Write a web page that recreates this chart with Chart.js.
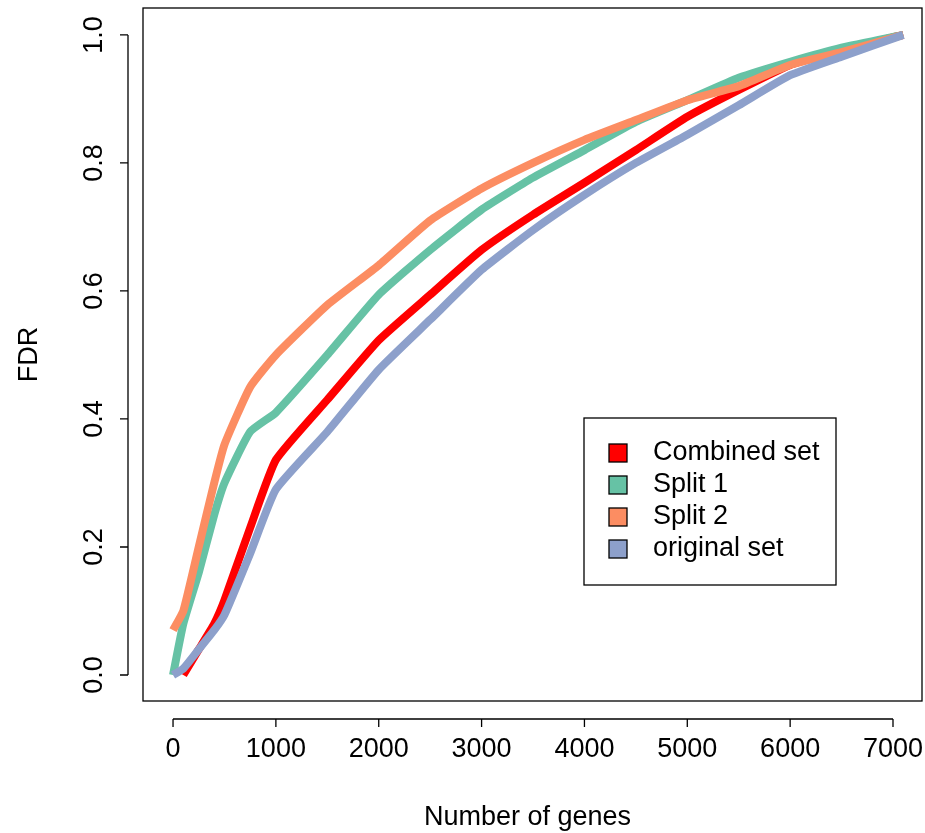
<!DOCTYPE html>
<html>
<head>
<meta charset="utf-8">
<script src="https://cdn.jsdelivr.net/npm/chart.js@4"></script>
<style>
  html, body { margin: 0; padding: 0; background: #fff; }
  #wrap { width: 925px; height: 833px; }
</style>
</head>
<body>
<div id="wrap"><canvas id="fdr"></canvas></div>
<script>
// ---- Data ----
const genes = [0, 100, 250, 400, 500, 750, 1000, 1500, 2000, 2500, 3000, 3500, 4000, 4500, 5000, 5500, 6000, 6500, 7100];
const combinedSet = [null, 0.0, 0.04, 0.08, 0.117, 0.23, 0.336, 0.43, 0.523, 0.594, 0.664, 0.719, 0.769, 0.82, 0.872, 0.914, 0.953, 0.977, 1.0];
const split1 = [0.0, 0.08, 0.16, 0.25, 0.30, 0.38, 0.41, 0.50, 0.594, 0.664, 0.727, 0.777, 0.82, 0.864, 0.898, 0.933, 0.958, 0.98, 1.0];
const split2 = [0.07, 0.10, 0.20, 0.30, 0.36, 0.45, 0.50, 0.578, 0.64, 0.71, 0.76, 0.80, 0.836, 0.867, 0.898, 0.92, 0.953, 0.973, 1.0];
const originalSet = [0.0, 0.01, 0.04, 0.07, 0.094, 0.19, 0.29, 0.38, 0.477, 0.555, 0.633, 0.695, 0.75, 0.80, 0.844, 0.89, 0.937, 0.966, 1.0];

const xTicks = [0, 1000, 2000, 3000, 4000, 5000, 6000, 7000];
const yTicks = [0.0, 0.2, 0.4, 0.6, 0.8, 1.0];

const seriesNames = ["Combined set", "Split 1", "Split 2", "original set"];
const seriesColors = ["#FF0000", "#66C2A5", "#FC8D62", "#8DA0CB"];
const seriesData = [combinedSet, split1, split2, originalSet];

const FONT = "27px 'Liberation Sans', Arial, sans-serif";

function pts(arr) {
  return genes.map((g, i) => ({ x: g, y: arr[i] })).filter((p) => p.y != null);
}

// ---- R-style axes, box and legend ----
const rAxes = {
  id: "rAxes",
  afterDraw(chart) {
    const { ctx, chartArea: a, scales: { x, y } } = chart;
    ctx.save();
    ctx.strokeStyle = "#000";
    ctx.fillStyle = "#000";
    ctx.lineWidth = 1.3;
    ctx.font = FONT;
    ctx.strokeRect(a.left, a.top, a.right - a.left, a.bottom - a.top);

    // x axis
    const xa = a.bottom + 18;
    ctx.beginPath();
    ctx.moveTo(x.getPixelForValue(0), xa);
    ctx.lineTo(x.getPixelForValue(7000), xa);
    xTicks.forEach((t) => {
      const px = x.getPixelForValue(t);
      ctx.moveTo(px, xa);
      ctx.lineTo(px, xa + 8);
    });
    ctx.stroke();
    ctx.textAlign = "center";
    ctx.textBaseline = "middle";
    xTicks.forEach((t) => ctx.fillText(String(t), x.getPixelForValue(t), xa + 31));
    ctx.fillText("Number of genes", (a.left + a.right) / 2 - 5, 818);

    // y axis
    const ya = a.left - 15;
    ctx.beginPath();
    ctx.moveTo(ya, y.getPixelForValue(0));
    ctx.lineTo(ya, y.getPixelForValue(1));
    yTicks.forEach((t) => {
      const py = y.getPixelForValue(t);
      ctx.moveTo(ya, py);
      ctx.lineTo(ya - 8, py);
    });
    ctx.stroke();
    yTicks.forEach((t) => {
      ctx.save();
      ctx.translate(ya - 33, y.getPixelForValue(t));
      ctx.rotate(-Math.PI / 2);
      ctx.fillText(t.toFixed(1), 0, 0);
      ctx.restore();
    });
    ctx.save();
    ctx.translate(30, (a.top + a.bottom) / 2);
    ctx.rotate(-Math.PI / 2);
    ctx.fillText("FDR", 0, 0);
    ctx.restore();

    // legend
    const lx = 584, ly = 418, lw = 252, lh = 167;
    ctx.fillStyle = "#fff";
    ctx.fillRect(lx, ly, lw, lh);
    ctx.strokeRect(lx, ly, lw, lh);
    ctx.textAlign = "left";
    seriesNames.forEach((n, i) => {
      const cy = ly + 35 + i * 32;
      ctx.fillStyle = seriesColors[i];
      ctx.fillRect(lx + 25, cy - 9, 18, 18);
      ctx.strokeRect(lx + 25, cy - 9, 18, 18);
      ctx.fillStyle = "#000";
      ctx.fillText(n, lx + 69, cy);
    });
    ctx.restore();
  },
};

// draw order: red, green, orange, blue on top
const datasets = seriesData.map((d, i) => ({
  label: seriesNames[i],
  data: pts(d),
  borderColor: seriesColors[i],
  borderWidth: 8,
  pointRadius: 0,
  showLine: true,
  tension: 0.15,
  order: 3 - i,
}));

new Chart(document.getElementById("fdr"), {
  type: "scatter",
  data: { datasets },
  options: {
    responsive: true,
    maintainAspectRatio: false,
    animation: false,
    layout: { padding: { left: 143, top: 8, right: 3, bottom: 132 } },
    plugins: { legend: { display: false }, tooltip: { enabled: false } },
    scales: {
      x: { type: "linear", min: -292, max: 7282, display: false },
      y: { type: "linear", min: -0.0406, max: 1.042, display: false },
    },
  },
  plugins: [rAxes],
});
</script>
</body>
</html>
